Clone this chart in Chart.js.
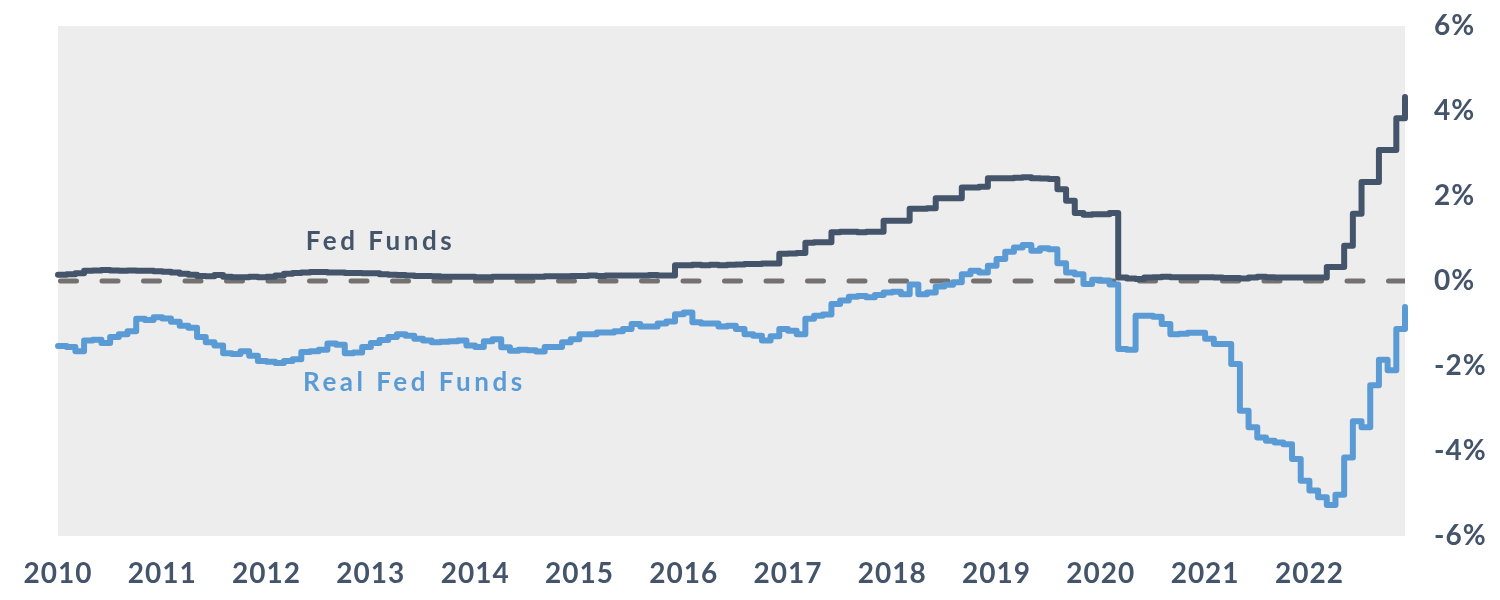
<!DOCTYPE html>
<html>
<head>
<meta charset="utf-8">
<title>Fed Funds vs Real Fed Funds</title>
<script src="https://cdn.jsdelivr.net/npm/chart.js@4"></script>
<style>
  html, body { margin: 0; padding: 0; background: #fff; }
</style>
</head>
<body>
<canvas id="rateChart" width="1500" height="600"></canvas>
<script>
// year tick labels, one per January
const years = ['2010', '2011', '2012', '2013', '2014', '2015', '2016', '2017', '2018', '2019', '2020', '2021', '2022'];

// monthly effective fed funds rate, %, Jan 2010 .. Dec 2022
const fedFunds = [
  0.15, 0.16, 0.18, 0.24, 0.25, 0.26, 0.25, 0.24, 0.25, 0.24, 0.24, 0.23,
  0.22, 0.20, 0.17, 0.15, 0.12, 0.11, 0.14, 0.10, 0.09, 0.09, 0.10, 0.09,
  0.10, 0.13, 0.17, 0.19, 0.20, 0.21, 0.21, 0.20, 0.20, 0.19, 0.19, 0.18,
  0.18, 0.16, 0.15, 0.14, 0.13, 0.12, 0.12, 0.11, 0.10, 0.10, 0.10, 0.10,
  0.09, 0.09, 0.10, 0.10, 0.10, 0.10, 0.10, 0.10, 0.11, 0.11, 0.11, 0.12,
  0.12, 0.13, 0.12, 0.13, 0.13, 0.13, 0.13, 0.13, 0.14, 0.13, 0.13, 0.37,
  0.37, 0.38, 0.37, 0.38, 0.37, 0.38, 0.39, 0.40, 0.40, 0.41, 0.41, 0.64,
  0.65, 0.66, 0.90, 0.91, 0.91, 1.15, 1.16, 1.16, 1.15, 1.16, 1.16, 1.42,
  1.42, 1.42, 1.70, 1.70, 1.71, 1.95, 1.95, 1.95, 2.20, 2.20, 2.22, 2.42,
  2.42, 2.42, 2.43, 2.44, 2.42, 2.41, 2.40, 2.16, 1.89, 1.60, 1.56, 1.57,
  1.57, 1.60, 0.08, 0.06, 0.05, 0.08, 0.09, 0.10, 0.09, 0.09, 0.09, 0.09,
  0.09, 0.08, 0.07, 0.07, 0.06, 0.08, 0.10, 0.09, 0.08, 0.08, 0.08, 0.08,
  0.08, 0.08, 0.33, 0.33, 0.83, 1.58, 2.33, 2.33, 3.08, 3.08, 3.83, 4.33
];

// fed funds less inflation, %, same months
const realFedFunds = [
  -1.53, -1.55, -1.65, -1.40, -1.38, -1.46, -1.32, -1.25, -1.18, -0.89, -0.92, -0.85,
  -0.88, -0.96, -1.05, -1.10, -1.32, -1.44, -1.52, -1.70, -1.72, -1.65, -1.76, -1.88,
  -1.90, -1.93, -1.88, -1.84, -1.67, -1.65, -1.62, -1.47, -1.50, -1.70, -1.68, -1.55,
  -1.46, -1.39, -1.32, -1.25, -1.29, -1.36, -1.40, -1.44, -1.43, -1.42, -1.40, -1.52,
  -1.55, -1.42, -1.37, -1.56, -1.64, -1.62, -1.63, -1.66, -1.55, -1.55, -1.44, -1.37,
  -1.25, -1.25, -1.21, -1.21, -1.18, -1.13, -1.01, -1.07, -1.07, -1.00, -0.95, -0.78,
  -0.74, -0.97, -1.00, -1.00, -1.07, -1.05, -1.13, -1.25, -1.29, -1.40, -1.30, -1.13,
  -1.17, -1.25, -0.89, -0.82, -0.79, -0.54, -0.46, -0.37, -0.35, -0.38, -0.33, -0.27,
  -0.25, -0.31, -0.08, -0.31, -0.27, -0.13, -0.09, -0.03, 0.16, 0.24, 0.20, 0.36,
  0.52, 0.69, 0.79, 0.85, 0.71, 0.77, 0.75, 0.42, 0.20, 0.16, -0.07, 0.03,
  0.01, -0.08, -1.60, -1.62, -0.82, -0.82, -0.84, -1.01, -1.25, -1.24, -1.22, -1.22,
  -1.36, -1.48, -1.48, -1.95, -3.05, -3.44, -3.68, -3.76, -3.80, -3.84, -4.19, -4.70,
  -4.93, -5.09, -5.27, -5.03, -4.15, -3.30, -3.44, -2.45, -1.85, -2.10, -1.13, -0.61
];

const seriesNames = ['Fed Funds', 'Real Fed Funds'];

const darkBlue = '#44546a';
const lightBlue = '#5b9bd5';
const zeroGray = '#767171';

// one category per month
const months = [];
years.forEach(y => {
  for (let m = 1; m <= 12; m++) months.push(y + '-' + String(m).padStart(2, '0'));
});

const chartDecor = {
  id: 'chartDecor',
  beforeDraw(chart) {
    const { ctx, chartArea: a } = chart;
    ctx.save();
    ctx.fillStyle = '#ededed';
    ctx.fillRect(a.left, a.top, a.width, a.height);
    ctx.restore();
    // a touch of tracking for the axis text, like the original's wide face
    ctx.letterSpacing = '1px';
  },
  beforeDatasetsDraw(chart) {
    // dashed zero line
    const { ctx, chartArea: a, scales } = chart;
    const y0 = scales.y.getPixelForValue(0);
    ctx.save();
    ctx.beginPath();
    ctx.rect(a.left, a.top, a.width, a.height);
    ctx.clip();
    ctx.strokeStyle = zeroGray;
    ctx.lineWidth = 5;
    ctx.lineCap = 'round';
    ctx.setLineDash([16, 25.5]);
    ctx.beginPath();
    ctx.moveTo(a.left + 2.5, y0);
    ctx.lineTo(a.right, y0);
    ctx.stroke();
    ctx.restore();
  },
  afterDatasetsDraw(chart) {
    // series names written next to the lines
    const { ctx, scales } = chart;
    const spots = [[37.1, 0.73, darkBlue], [41, -2.59, lightBlue]];
    ctx.save();
    ctx.font = 'bold 26px Lato';
    ctx.letterSpacing = '3.5px';
    ctx.textAlign = 'center';
    ctx.textBaseline = 'alphabetic';
    seriesNames.forEach((name, i) => {
      const [mx, val, col] = spots[i];
      ctx.fillStyle = col;
      ctx.fillText(name, scales.x.getPixelForValue(mx), scales.y.getPixelForValue(val));
    });
    ctx.restore();
  }
};

const tickFont = { family: 'Lato', size: 28, weight: 'bold' };

new Chart(document.getElementById('rateChart').getContext('2d'), {
  type: 'line',
  data: {
    labels: months,
    datasets: [
      {
        label: seriesNames[0],
        data: fedFunds,
        borderColor: darkBlue,
        borderWidth: 6,
        stepped: 'before',
        pointRadius: 0,
        borderJoinStyle: 'round',
        borderCapStyle: 'round',
        fill: false
      },
      {
        label: seriesNames[1],
        data: realFedFunds,
        borderColor: lightBlue,
        borderWidth: 6,
        stepped: 'before',
        pointRadius: 0,
        borderJoinStyle: 'round',
        borderCapStyle: 'round',
        fill: false
      }
    ]
  },
  options: {
    responsive: false,
    animation: false,
    layout: { padding: { left: 58, top: 26, right: 0, bottom: 0 } },
    plugins: {
      legend: { display: false },
      tooltip: { enabled: false }
    },
    scales: {
      x: {
        grid: { display: false },
        border: { display: false },
        ticks: {
          autoSkip: false,
          maxRotation: 0,
          minRotation: 0,
          padding: 13,
          color: darkBlue,
          font: tickFont,
          callback: (v, i) => (i % 12 === 0 ? years[i / 12] : '')
        },
        afterFit: s => { s.height = 64; }
      },
      y: {
        position: 'right',
        min: -6,
        max: 6,
        grid: { display: false },
        border: { display: false },
        ticks: {
          stepSize: 2,
          padding: 21,
          color: darkBlue,
          font: tickFont,
          callback: v => v + '%'
        },
        // tick padding is horizontal here; don't let it push the plot down
        afterFit: s => { s.width = 95; s.paddingTop = 18; s.paddingBottom = 18; }
      }
    }
  },
  plugins: [chartDecor]
});
</script>
</body>
</html>
